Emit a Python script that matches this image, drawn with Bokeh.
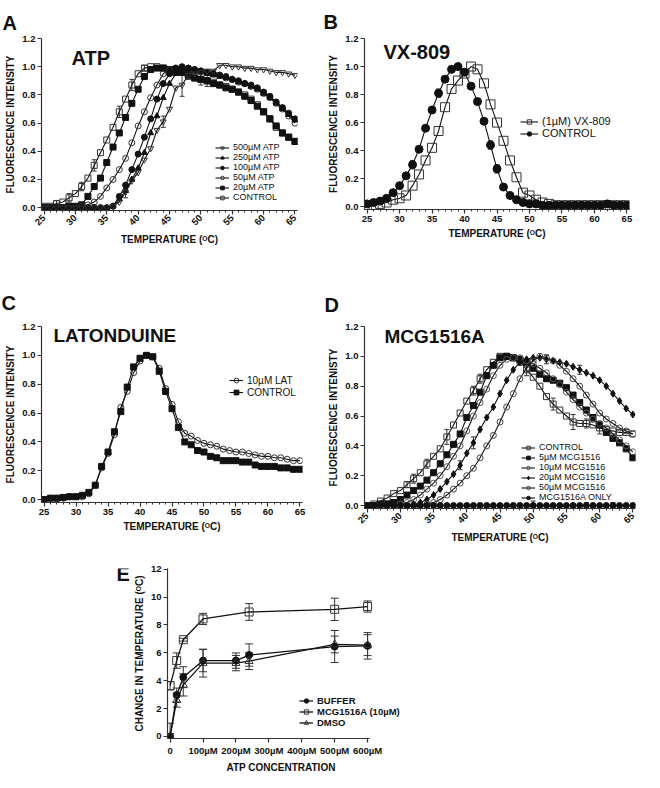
from math import pi
from bokeh.plotting import figure
from bokeh.layouts import column, row
from bokeh.models import (Legend, LegendItem, Label, FixedTicker, PrintfTickFormatter,
                          Whisker, ColumnDataSource, Range1d, TeeHead, Title)
from bokeh.embed import file_html
from bokeh.resources import INLINE

FONT = "Liberation Sans"

# ---------------- data ----------------
TEMPERATURE = list(range(25, 66))
TEMP_TICKS = [25, 30, 35, 40, 45, 50, 55, 60, 65]
FLUO_TICKS = [0.0, 0.2, 0.4, 0.6, 0.8, 1.0, 1.2]

# Panel A (ATP)
A_CONTROL = [0.01, 0.01, 0.03, 0.04, 0.07, 0.10, 0.15, 0.21, 0.30, 0.39,
             0.48, 0.57, 0.68, 0.77, 0.87, 0.95, 0.99, 1.00, 1.00, 0.99,
             0.98, 0.97, 0.96, 0.94, 0.92, 0.91, 0.90, 0.89, 0.87, 0.86,
             0.84, 0.82, 0.80, 0.77, 0.73, 0.68, 0.63, 0.57, 0.53, 0.50, 0.47]
A_ATP20 = [0.00, 0.00, 0.00, 0.00, 0.01, 0.01, 0.02, 0.08, 0.15, 0.21,
           0.32, 0.43, 0.53, 0.64, 0.74, 0.84, 0.93, 0.98, 0.99, 0.99,
           0.98, 0.97, 0.96, 0.94, 0.92, 0.91, 0.90, 0.88, 0.87, 0.85,
           0.84, 0.82, 0.79, 0.76, 0.72, 0.68, 0.63, 0.58, 0.53, 0.50, 0.47]
A_ATP50 = [0.00, 0.00, 0.00, 0.00, 0.00, 0.00, 0.01, 0.02, 0.04, 0.08,
           0.14, 0.20, 0.27, 0.35, 0.46, 0.58, 0.68, 0.78, 0.87, 0.95,
           0.98, 0.99, 0.99, 0.99, 0.98, 0.97, 0.96, 0.95, 0.94, 0.92,
           0.91, 0.89, 0.88, 0.86, 0.84, 0.81, 0.78, 0.74, 0.70, 0.65, 0.60]
A_ATP100 = [0.00, 0.00, 0.00, 0.00, 0.00, 0.00, 0.00, 0.00, 0.00, 0.00,
            0.00, 0.01, 0.08, 0.16, 0.27, 0.38, 0.50, 0.63, 0.77, 0.88,
            0.95, 0.99, 1.00, 0.99, 0.98, 0.97, 0.96, 0.95, 0.94, 0.93,
            0.91, 0.90, 0.88, 0.87, 0.85, 0.82, 0.79, 0.75, 0.71, 0.67, 0.63]
A_ATP250 = [0.00, 0.00, 0.00, 0.00, 0.00, 0.00, 0.00, 0.00, 0.00, 0.00,
            0.00, 0.01, 0.06, 0.12, 0.20, 0.28, 0.39, 0.53, 0.65, 0.78,
            0.88, 0.95, 0.98, 0.98, 0.97, 0.96, 0.95, 0.94, 0.93, 0.92,
            0.91, 0.89, 0.88, 0.86, 0.84, 0.81, 0.78, 0.74, 0.70, 0.66, 0.62]
A_ATP500 = [0.00, 0.00, 0.00, 0.00, 0.00, 0.00, 0.00, 0.00, 0.00, 0.00,
            0.00, 0.01, 0.04, 0.11, 0.19, 0.25, 0.34, 0.42, 0.55, 0.61,
            0.70, 0.85, 0.87, 0.94, 0.95, 0.96, 0.97, 0.97, 1.01, 1.01,
            1.00, 1.00, 0.99, 0.99, 0.98, 0.98, 0.97, 0.96, 0.96, 0.95, 0.94]
# sparse SEM bars (temperature, half-height)
A_CONTROL_ERR_T = [27, 29, 31, 33, 37, 39, 41, 48, 50, 51]
A_CONTROL_ERR = [0.02, 0.03, 0.03, 0.04, 0.04, 0.04, 0.02, 0.03, 0.04, 0.04]
A_ATP500_ERR_T = [38, 44, 47]
A_ATP500_ERR = [0.04, 0.04, 0.08]

# Panel B (VX-809)
B_VX809 = [0.00, 0.01, 0.02, 0.03, 0.05, 0.06, 0.08, 0.15, 0.23, 0.33,
           0.42, 0.54, 0.71, 0.84, 0.90, 0.95, 1.00, 0.98, 0.88, 0.73,
           0.60, 0.47, 0.33, 0.21, 0.10, 0.08, 0.05, 0.03, 0.02, 0.01,
           0.01, 0.01, 0.01, 0.01, 0.01, 0.01, 0.01, 0.01, 0.01, 0.01, 0.01]
B_CONTROL = [0.02, 0.03, 0.04, 0.06, 0.10, 0.15, 0.22, 0.30, 0.41, 0.56,
             0.69, 0.81, 0.91, 0.98, 1.00, 0.96, 0.86, 0.75, 0.61, 0.44,
             0.27, 0.14, 0.08, 0.05, 0.03, 0.02, 0.02, 0.01, 0.01, 0.01,
             0.01, 0.01, 0.01, 0.01, 0.01, 0.01, 0.01, 0.02, 0.01, 0.01, 0.01]
B_CONTROL_ERR_T = [30, 32, 36, 44, 45]
B_CONTROL_ERR = [0.02, 0.03, 0.03, 0.03, 0.03]

# Panel C (LATONDUINE)
C_CONTROL = [0.00, 0.01, 0.01, 0.015, 0.02, 0.02, 0.03, 0.05, 0.10, 0.23,
             0.33, 0.47, 0.61, 0.78, 0.92, 0.98, 1.00, 0.99, 0.89, 0.75,
             0.63, 0.50, 0.40, 0.38, 0.34, 0.33, 0.30, 0.29, 0.27, 0.27,
             0.27, 0.26, 0.26, 0.24, 0.23, 0.23, 0.23, 0.22, 0.22, 0.21, 0.21]
C_LAT10 = [0.00, 0.01, 0.01, 0.01, 0.02, 0.02, 0.02, 0.04, 0.10, 0.22,
           0.32, 0.45, 0.64, 0.75, 0.88, 0.96, 1.00, 0.99, 0.91, 0.77,
           0.66, 0.54, 0.46, 0.44, 0.41, 0.39, 0.38, 0.37, 0.35, 0.34,
           0.33, 0.33, 0.32, 0.31, 0.30, 0.30, 0.29, 0.29, 0.28, 0.27, 0.27]

# Panel D (MCG1516A)
D_CONTROL = [0.00, 0.01, 0.03, 0.05, 0.08, 0.10, 0.14, 0.18, 0.22, 0.28,
             0.33, 0.38, 0.46, 0.54, 0.62, 0.70, 0.77, 0.85, 0.91, 0.96,
             1.00, 1.00, 0.99, 0.97, 0.91, 0.86, 0.80, 0.73, 0.68, 0.64,
             0.60, 0.56, 0.55, 0.55, 0.54, 0.52, 0.51, 0.50, 0.49, 0.49, 0.48]
D_MCG5 = [0.00, 0.00, 0.01, 0.01, 0.02, 0.04, 0.07, 0.10, 0.13, 0.17,
          0.22, 0.28, 0.34, 0.41, 0.48, 0.59, 0.67, 0.76, 0.87, 0.94,
          0.99, 1.00, 0.99, 0.98, 0.96, 0.92, 0.88, 0.85, 0.84, 0.82,
          0.79, 0.74, 0.69, 0.64, 0.59, 0.54, 0.49, 0.45, 0.42, 0.38, 0.32]
D_MCG10 = [0.00, 0.00, 0.00, 0.00, 0.00, 0.01, 0.02, 0.04, 0.07, 0.11,
           0.15, 0.20, 0.26, 0.33, 0.40, 0.50, 0.60, 0.69, 0.78, 0.87,
           0.94, 0.98, 0.99, 0.99, 0.97, 0.95, 0.92, 0.89, 0.85, 0.81,
           0.76, 0.71, 0.66, 0.62, 0.58, 0.55, 0.52, 0.48, 0.44, 0.40, 0.36]
D_MCG20 = [0.00, 0.00, 0.00, 0.00, 0.00, 0.00, 0.00, 0.01, 0.02, 0.04,
           0.07, 0.11, 0.16, 0.21, 0.27, 0.35, 0.42, 0.51, 0.59, 0.66,
           0.75, 0.84, 0.91, 0.96, 0.98, 0.99, 0.99, 0.98, 0.97, 0.96,
           0.95, 0.93, 0.91, 0.89, 0.87, 0.84, 0.80, 0.75, 0.70, 0.65, 0.61]
D_MCG50 = [0.00, 0.00, 0.00, 0.00, 0.00, 0.00, 0.00, 0.00, 0.00, 0.01,
           0.02, 0.04, 0.07, 0.11, 0.15, 0.20, 0.25, 0.32, 0.40, 0.47,
           0.56, 0.66, 0.75, 0.85, 0.92, 0.97, 1.00, 0.99, 0.97, 0.94,
           0.90, 0.85, 0.80, 0.74, 0.68, 0.62, 0.58, 0.55, 0.52, 0.50, 0.48]
D_MCG_ONLY = [0.00, 0.00, 0.00, 0.00, 0.00, 0.00, 0.00, 0.00, 0.00, 0.00,
              0.00, 0.00, 0.00, 0.00, 0.00, 0.00, 0.00, 0.00, 0.00, 0.00,
              0.00, 0.00, 0.00, 0.00, 0.00, 0.00, 0.00, 0.00, 0.00, 0.00,
              0.00, 0.00, 0.00, 0.00, 0.00, 0.00, 0.00, 0.00, 0.00, 0.00, 0.00]
D_CONTROL_ERR_T = [31, 32, 34, 37, 41, 42, 48, 49, 53, 56, 58, 60]
D_CONTROL_ERR = [0.02, 0.03, 0.03, 0.05, 0.03, 0.03, 0.03, 0.04, 0.04, 0.05, 0.03, 0.04]
D_MCG20_ERR_T = [39, 41, 52, 57]
D_MCG20_ERR = [0.03, 0.04, 0.03, 0.03]
D_ONLY_ERR_T = [50, 58, 62]
D_ONLY_ERR = [0.03, 0.02, 0.02]

# Panel E (change in Tm vs ATP concentration, µM)
E_CONC = [0, 20, 40, 100, 200, 240, 500, 600]
E_BUFFER = [0.0, 2.97, 4.25, 5.44, 5.44, 5.84, 6.45, 6.50]
E_BUFFER_ERR = [0.2, 0.5, 0.75, 0.8, 0.55, 0.8, 1.15, 0.95]
E_DMSO = [0.0, 2.6, 3.7, 5.26, 5.26, 5.40, 6.60, 6.55]
E_DMSO_ERR = [0.95, 0.5, 0.8, 1.0, 0.55, 0.6, 0.6, 0.75]
E_MCG_CONC = [0, 20, 40, 100, 240, 500, 600]
E_MCG = [3.64, 5.44, 6.94, 8.43, 8.93, 9.12, 9.32]
E_MCG_ERR = [0.3, 0.55, 0.1, 0.4, 0.6, 0.8, 0.4]
E_X_TICKS = [0, 100, 200, 300, 400, 500, 600]
E_X_LABELS = ["0", "100µM", "200µM", "300µM", "400µM", "500µM", "600µM"]
E_Y_TICKS = [0, 2, 4, 6, 8, 10, 12]

TEMP_LABEL = "TEMPERATURE (ᴼC)"


# ---------------- helpers ----------------
def make_fig(fw, fh, left, right, top, bottom, xr, yr):
    p = figure(frame_width=fw, frame_height=fh, x_range=Range1d(*xr), y_range=Range1d(*yr),
               output_backend="svg", toolbar_location=None,
               min_border_left=left, min_border_right=right,
               min_border_top=top, min_border_bottom=bottom)
    p.outline_line_color = None
    p.xgrid.visible = False
    p.ygrid.visible = False
    for ax in (p.xaxis[0], p.yaxis[0]):
        ax.axis_line_color = "#333333"
        ax.axis_line_width = 1.2
        ax.major_tick_line_color = "#333333"
        ax.major_tick_line_width = 1.2
        ax.minor_tick_line_color = "#333333"
        ax.major_tick_out = 4
        ax.major_tick_in = 0
        ax.minor_tick_out = 2
        ax.minor_tick_in = 0
        ax.major_label_text_font = FONT
        ax.major_label_text_font_style = "bold"
        ax.major_label_text_font_size = "9.5px"
        ax.major_label_text_color = "#111111"
        ax.major_label_standoff = 2
        ax.axis_label_text_font = FONT
        ax.axis_label_text_font_style = "bold"
        ax.axis_label_text_font_size = "10px"
        ax.axis_label_text_color = "#111111"
        ax.axis_label_standoff = 3
    return p


def panel_letter(p, letter, offset, standoff):
    p.title.text = letter
    p.title.align = "left"
    p.title.offset = offset
    p.title.standoff = standoff
    p.title.text_font = FONT
    p.title.text_font_style = "bold"
    p.title.text_font_size = "20px"
    p.title.text_color = "#111111"


def temp_axes(p, ylabel, rotate):
    p.xaxis[0].ticker = FixedTicker(ticks=TEMP_TICKS, minor_ticks=TEMPERATURE)
    p.yaxis[0].ticker = FixedTicker(ticks=FLUO_TICKS, minor_ticks=[])
    p.yaxis[0].formatter = PrintfTickFormatter(format="%.1f")
    p.xaxis[0].axis_label = TEMP_LABEL
    p.yaxis[0].axis_label = ylabel
    if rotate:
        p.xaxis[0].major_label_orientation = pi / 4


def series(p, x, y, marker, filled, size, color="#111111", lw=1.1):
    l = p.line(x, y, line_color="#111111", line_width=lw)
    s = p.scatter(x, y, marker=marker, size=size, line_color=color, line_width=1,
                  fill_color=color if filled else "white", fill_alpha=1.0 if filled else 0.0)
    return [l, s]


def err_bars(p, xs, full_x, full_y, errs, head=5, lookup=True):
    if lookup:
        ys = [full_y[full_x.index(t)] for t in xs]
    else:
        ys = full_y
    src = ColumnDataSource(dict(x=xs, lo=[a - b for a, b in zip(ys, errs)],
                                hi=[a + b for a, b in zip(ys, errs)]))
    w = Whisker(base="x", lower="lo", upper="hi", source=src, line_color="#333333", line_width=1,
                upper_head=TeeHead(size=head, line_color="#333333", line_width=1),
                lower_head=TeeHead(size=head, line_color="#333333", line_width=1))
    p.add_layout(w)


def add_legend(p, items, loc, fsize, gw=14, bold=False, lh=9):
    lg = Legend(items=[LegendItem(label=t, renderers=r) for t, r in items], location=loc)
    lg.background_fill_alpha = 0
    lg.border_line_alpha = 0
    lg.label_text_font = FONT
    lg.label_text_font_size = fsize
    lg.label_text_font_style = "bold" if bold else "normal"
    lg.label_text_color = "#111111"
    lg.glyph_width = gw
    lg.glyph_height = lh
    lg.label_height = lh
    lg.label_text_line_height = 1.0
    lg.spacing = 0
    lg.padding = 0
    lg.margin = 0
    lg.label_standoff = 4
    p.add_layout(lg)


def text_label(p, x, y, txt, size):
    p.add_layout(Label(x=x, y=y, x_units="screen", y_units="screen", text=txt,
                       text_font=FONT, text_font_style="bold", text_font_size=size,
                       text_color="#111111", text_baseline="bottom"))


# ---------------- Panel A ----------------
pA = make_fig(256, 172, 41, 25, 36, 38, (24.6, 65.4), (-0.02, 1.2))
temp_axes(pA, "FLUORESCENCE INTENSITY", True)
panel_letter(pA, "A", -39, 10)
err_bars(pA, A_CONTROL_ERR_T, TEMPERATURE, A_CONTROL, A_CONTROL_ERR)
err_bars(pA, A_ATP500_ERR_T, TEMPERATURE, A_ATP500, A_ATP500_ERR)
a_ctrl = series(pA, TEMPERATURE, A_CONTROL, "square", False, 6, "#333333")
a20 = series(pA, TEMPERATURE, A_ATP20, "square", True, 6)
a50 = series(pA, TEMPERATURE, A_ATP50, "circle", False, 6, "#333333")
a100 = series(pA, TEMPERATURE, A_ATP100, "circle", True, 6)
a250 = series(pA, TEMPERATURE, A_ATP250, "triangle", True, 6)
a500 = series(pA, TEMPERATURE, A_ATP500, "inverted_triangle", False, 6, "#333333")
add_legend(pA, [("500µM ATP", a500), ("250µM ATP", a250), ("100µM ATP", a100),
                ("50µM ATP", a50), ("20µM ATP", a20), ("CONTROL", a_ctrl)],
           (174, 8), "9px")
text_label(pA, 30, 142, "ATP", "20px")

# ---------------- Panel B ----------------
pB = make_fig(265, 171, 42, 15, 38, 37, (24.6, 65.4), (-0.02, 1.2))
temp_axes(pB, "FLUORESCENCE INTENSITY", False)
panel_letter(pB, "B", -41, 12)
err_bars(pB, B_CONTROL_ERR_T, TEMPERATURE, B_CONTROL, B_CONTROL_ERR)
b_vx = series(pB, TEMPERATURE, B_VX809, "square", False, 9, "#333333")
b_ctrl = series(pB, TEMPERATURE, B_CONTROL, "circle", True, 8)
add_legend(pB, [("(1µM) VX-809", b_vx), ("CONTROL", b_ctrl)], (156, 70), "11px", gw=18, lh=11)
text_label(pB, 19, 147, "VX-809", "20px")

# ---------------- Panel C ----------------
pC = make_fig(261, 176, 41, 20, 80, 42, (24.6, 65.4), (-0.02, 1.2))
temp_axes(pC, "FLUORESCENCE INTENSITY", False)
panel_letter(pC, "C", -40, 26)
c_lat = series(pC, TEMPERATURE, C_LAT10, "circle", False, 6, "#333333")
c_ctrl = series(pC, TEMPERATURE, C_CONTROL, "square", True, 6)
add_legend(pC, [("10µM LAT", c_lat), ("CONTROL", c_ctrl)], (188, 104), "10px", lh=12)
text_label(pC, 12, 157, "LATONDUINE", "19px")

# ---------------- Panel D ----------------
pD = make_fig(271, 182, 42, 9, 78, 38, (24.6, 65.4), (-0.02, 1.2))
temp_axes(pD, "FLUORESCENCE INTENISTY", True)
panel_letter(pD, "D", -40, 22)
err_bars(pD, D_CONTROL_ERR_T, TEMPERATURE, D_CONTROL, D_CONTROL_ERR)
err_bars(pD, D_MCG20_ERR_T, TEMPERATURE, D_MCG20, D_MCG20_ERR)
err_bars(pD, D_ONLY_ERR_T, TEMPERATURE, D_MCG_ONLY, D_ONLY_ERR)
d_ctrl = series(pD, TEMPERATURE, D_CONTROL, "square", False, 6, "#333333")
d5 = series(pD, TEMPERATURE, D_MCG5, "square", True, 6)
d10 = series(pD, TEMPERATURE, D_MCG10, "circle", False, 6, "#555555")
d20 = series(pD, TEMPERATURE, D_MCG20, "diamond", True, 7)
d50 = series(pD, TEMPERATURE, D_MCG50, "circle", False, 6, "#444444")
d_only = series(pD, TEMPERATURE, D_MCG_ONLY, "circle", True, 6)
add_legend(pD, [("CONTROL", d_ctrl), ("5µM MCG1516", d5), ("10µM MCG1516", d10),
                ("20µM MCG1516", d20), ("50µM MCG1516", d50), ("MCG1516A ONLY", d_only)],
           (157, 6), "9px")
text_label(pD, 20, 162, "MCG1516A", "19px")

# ---------------- Panel E ----------------
# letter column
pEL = figure(frame_width=130, frame_height=226, x_range=Range1d(0, 1), y_range=Range1d(0, 1),
             output_backend="svg", toolbar_location=None, x_axis_location=None,
             y_axis_location=None, min_border=0)
pEL.outline_line_color = None
pEL.xgrid.visible = False
pEL.ygrid.visible = False
text_label(pEL, 116, 210, "E", "20px")

pE = make_fig(233, 170, 36, 245, 24, 32, (-8, 700), (-0.15, 12.05))
pE.xaxis[0].bounds = (-8, 606)
pE.xaxis[0].ticker = FixedTicker(ticks=E_X_TICKS, minor_ticks=[])
pE.xaxis[0].major_label_overrides = {t: s for t, s in zip(E_X_TICKS, E_X_LABELS)}
pE.yaxis[0].ticker = FixedTicker(ticks=E_Y_TICKS, minor_ticks=[])
pE.yaxis[0].axis_label = "CHANGE IN TEMPERATURE (ᴼC)"
pE.add_layout(Title(text="ATP CONCENTRATION", align="left", offset=59, standoff=2,
                    text_font=FONT, text_font_style="bold", text_font_size="10px",
                    text_color="#111111"), "below")

err_bars(pE, E_CONC, E_CONC, E_BUFFER, E_BUFFER_ERR, head=8, lookup=False)
err_bars(pE, E_CONC, E_CONC, E_DMSO, E_DMSO_ERR, head=8, lookup=False)
err_bars(pE, E_MCG_CONC, E_MCG_CONC, E_MCG, E_MCG_ERR, head=8, lookup=False)
e_buf = series(pE, E_CONC, E_BUFFER, "circle", True, 7, lw=1.3)
e_mcg = series(pE, E_MCG_CONC, E_MCG, "square", False, 8, "#333333", lw=1.3)
e_dmso = series(pE, E_CONC, E_DMSO, "triangle", False, 8, "#333333", lw=1.3)
add_legend(pE, [("BUFFER", e_buf), ("MCG1516A (10µM)", e_mcg), ("DMSO", e_dmso)],
           (132, 10), "9.5px", bold=True, lh=11)

layout = column(row(pA, pB), row(pC, pD), row(pEL, pE))
open("out.html", "w").write(file_html(layout, INLINE))
